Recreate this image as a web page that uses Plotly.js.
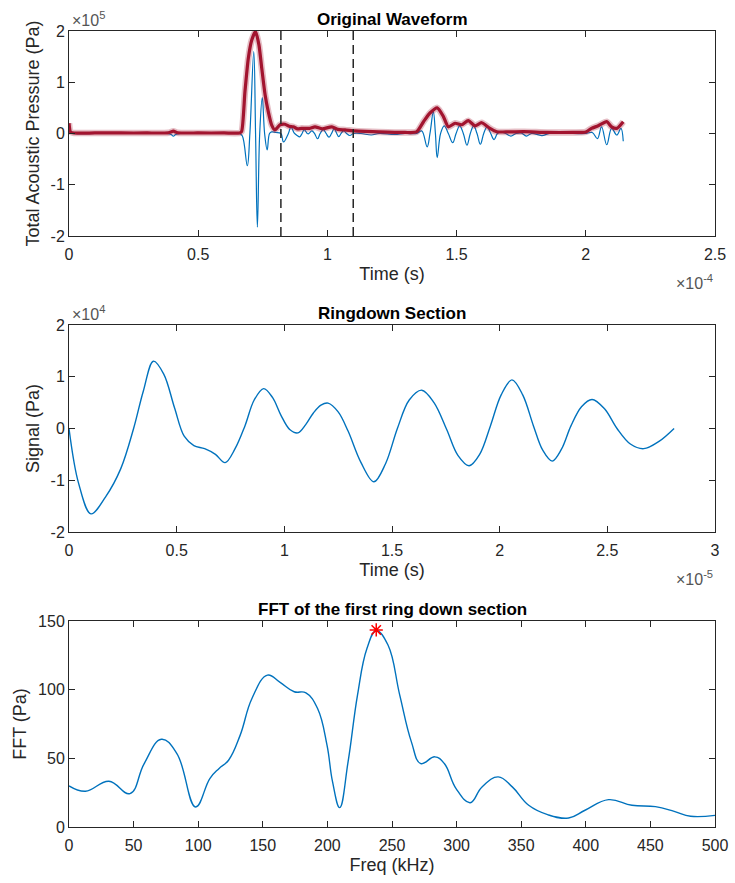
<!DOCTYPE html>
<html>
<head>
<meta charset="utf-8">
<script src="https://cdn.plot.ly/plotly-3.0.1.min.js"></script>
<style>
  html, body { margin: 0; padding: 0; background: #fff; }
  #chart { width: 735px; height: 883px; }
</style>
</head>
<body>
<div id="chart"></div>
<script>
// ---------- Panel 1: Original waveform (time in 1e-4 s, pressure in 1e5 Pa) ----------
const waveTime = [0, 0.005, 0.02, 0.1, 0.2, 0.3, 0.38, 0.395, 0.404, 0.413, 0.43, 0.5, 0.6, 0.66,
  0.671, 0.690, 0.700, 0.715, 0.722, 0.729, 0.738, 0.748, 0.757, 0.767, 0.776, 0.784, 0.80, 0.82,
  0.830, 0.849, 0.859, 0.871, 0.883, 0.8925, 0.902, 0.910, 0.922, 0.926, 0.940, 0.950, 0.962, 0.972,
  0.984, 0.995, 1.006, 1.016, 1.026, 1.036, 1.044, 1.053, 1.063, 1.074, 1.087, 1.101,
  1.13, 1.17, 1.2, 1.26, 1.3, 1.345, 1.365, 1.386, 1.397, 1.410, 1.418, 1.425, 1.438, 1.452, 1.468,
  1.485, 1.498, 1.512, 1.526, 1.54, 1.553, 1.566, 1.579, 1.592, 1.605, 1.618, 1.632, 1.645, 1.658,
  1.67, 1.69, 1.71, 1.73, 1.75, 1.77, 1.79, 1.83, 1.86, 1.95, 2.0, 2.025, 2.045, 2.061, 2.081, 2.1,
  2.12, 2.136, 2.145];
const wavePressure = [0.15, 0.02, 0, 0, 0, 0, 0, -0.02, -0.05, -0.02, 0, 0, 0, 0,
  -0.05, -0.63, 0, 1.6, 0, -1.83, 0, 0.7, 0, -0.32, 0, 0.03, 0.02, 0,
  -0.165, 0, 0.13, 0.013, -0.039, -0.066, 0, 0.077, 0, -0.0085, 0.049, 0, -0.103, 0,
  0.074, 0, -0.072, 0, 0.094, 0, -0.063, 0, 0.056, 0, -0.039, 0,
  0, -0.03, 0, -0.02, 0, 0, 0.05, -0.26, 0, 0.42, 0, -0.47, 0, 0.15, 0,
  -0.18, 0, 0.15, 0, -0.23, 0, 0.15, 0, -0.21, 0, 0.13, 0, -0.12, 0,
  0.03, 0, -0.05, 0, 0.01, -0.05, 0, -0.04, 0, 0, 0, 0.02, -0.1, 0.13, -0.22, 0.1,
  -0.03, 0.1, -0.15];

const envTime = [0, 0.006, 0.02, 0.1, 0.2, 0.3, 0.385, 0.404, 0.42, 0.5, 0.6, 0.66, 0.668, 0.681,
  0.694, 0.707, 0.722, 0.735, 0.746, 0.759, 0.771, 0.784, 0.797, 0.817, 0.836, 0.852, 0.868, 0.885,
  0.9, 0.93, 0.952, 0.98, 1.017, 1.04, 1.068, 1.107, 1.146, 1.2, 1.3, 1.345, 1.372, 1.397, 1.425,
  1.449, 1.468, 1.494, 1.52, 1.545, 1.571, 1.597, 1.629, 1.655, 1.7, 1.76, 1.85, 1.95, 2.0, 2.022,
  2.048, 2.081, 2.1, 2.12, 2.145];
const envPressure = [0.2, 0.03, 0.01, 0.01, 0.01, 0.01, 0.015, 0.045, 0.015, 0.01, 0.01, 0.01, 0.04, 0.82,
  1.47, 1.82, 1.99, 1.73, 1.27, 0.75, 0.43, 0.17, 0.07, 0.17, 0.18, 0.14, 0.13, 0.09,
  0.1, 0.1, 0.13, 0.09, 0.13, 0.08, 0.07, 0.05, 0.04, 0.03, 0.02, 0.03, 0.23, 0.4, 0.5,
  0.33, 0.13, 0.2, 0.17, 0.25, 0.15, 0.21, 0.1, 0.035, 0.03, 0.035, 0.02, 0.02, 0.03, 0.1,
  0.15, 0.23, 0.13, 0.1, 0.23];

const ringdownBounds = [0.82, 1.10];

// ---------- Panel 2: Ringdown section (time in 1e-5 s, signal in 1e4 Pa) ----------
const ringTime = [0, 0.044, 0.102, 0.17, 0.24, 0.30, 0.345, 0.392, 0.44, 0.49, 0.535, 0.58, 0.63,
  0.68, 0.725, 0.77, 0.817, 0.86, 0.904, 0.945, 0.985, 1.025, 1.063, 1.10, 1.135, 1.17, 1.203,
  1.25, 1.296, 1.355, 1.416, 1.47, 1.525, 1.58, 1.638, 1.695, 1.754, 1.806, 1.858, 1.907, 1.957,
  2.007, 2.057, 2.107, 2.157, 2.20, 2.244, 2.287, 2.331, 2.38, 2.429, 2.487, 2.545, 2.607, 2.669,
  2.74, 2.81];
const ringSignal = [0, -1.05, -1.65, -1.32, -0.78, 0, 0.72, 1.3, 1.05, 0.4, -0.15, -0.33, -0.39,
  -0.5, -0.66, -0.4, 0.05, 0.55, 0.77, 0.6, 0.25, -0.02, -0.085, 0.08, 0.3, 0.45, 0.49,
  0.32, -0.05, -0.65, -1.03, -0.68, 0.0, 0.55, 0.74, 0.5, -0.02, -0.52, -0.72, -0.5, 0.05,
  0.65, 0.94, 0.65, 0.05, -0.42, -0.63, -0.4, 0.05, 0.42, 0.56, 0.38, 0.0, -0.3, -0.39,
  -0.25, 0];

// ---------- Panel 3: FFT ----------
const fftFreq = [0, 12.7, 30.9, 47.2, 58.1, 71.5, 83.5, 98, 109, 116, 123.5, 132.5, 141.6, 153.6,
  163.4, 174.3, 183.4, 192.4, 199.7, 204, 209.5, 216, 223.3, 230.6, 237.8, 246.9, 256, 265, 272.3,
  283.2, 290.5, 299.6, 310.5, 319.5, 332.2, 343.1, 355.8, 370.4, 386.7, 399.4, 417.6, 435.7, 453.9,
  468.4, 481.1, 500];
const fftAmp = [29.9, 26.0, 33.3, 24.3, 46, 63.9, 53.5, 14.6, 35.3, 42.5, 48.6, 66.9, 93.6, 110.6,
  105.3, 98.5, 97.7, 86.3, 59.6, 32.8, 14.1, 47.4, 96, 130, 143, 132.5, 96, 62, 46.2,
  51.1, 46.2, 28, 17.7, 29, 36.5, 29.2, 15.8, 9.0, 6.6, 12.2, 19.9, 15.8, 14.8,
  11.4, 7.8, 8.5];
const peakFreq = [237.8];
const peakAmp = [143.5];

// tick labels
const xTicks1 = [0, 0.5, 1, 1.5, 2, 2.5];
const xTickText1 = ['0', '0.5', '1', '1.5', '2', '2.5'];
const yTicks1 = [-2, -1, 0, 1, 2];
const yTickText1 = ['-2', '-1', '0', '1', '2'];
const xTicks2 = [0, 0.5, 1, 1.5, 2, 2.5, 3];
const xTickText2 = ['0', '0.5', '1', '1.5', '2', '2.5', '3'];
const xTicks3 = [0, 50, 100, 150, 200, 250, 300, 350, 400, 450, 500];
const yTicks3 = [0, 50, 100, 150];

const BLUE = '#0072BD';
const RED = '#A2142F';
const AX = '#262626';
const FONT = 'Liberation Sans, Arial, Helvetica, sans-serif';

const traces = [
  { x: waveTime, y: wavePressure, xaxis: 'x', yaxis: 'y', type: 'scatter', mode: 'lines',
    line: { color: BLUE, width: 1.2, shape: 'spline', smoothing: 1.1 } },
  { x: envTime, y: envPressure, xaxis: 'x', yaxis: 'y', type: 'scatter', mode: 'lines',
    line: { color: 'rgba(162,20,47,0.28)', width: 6.5, shape: 'spline', smoothing: 0.6 } },
  { x: envTime, y: envPressure, xaxis: 'x', yaxis: 'y', type: 'scatter', mode: 'lines',
    line: { color: RED, width: 3.2, shape: 'spline', smoothing: 0.6 } },
  { x: [ringdownBounds[0], ringdownBounds[0]], y: [-2, 2], xaxis: 'x', yaxis: 'y', type: 'scatter', mode: 'lines',
    line: { color: AX, width: 1.5, dash: '9px,5px' } },
  { x: [ringdownBounds[1], ringdownBounds[1]], y: [-2, 2], xaxis: 'x', yaxis: 'y', type: 'scatter', mode: 'lines',
    line: { color: AX, width: 1.5, dash: '9px,5px' } },
  { x: ringTime, y: ringSignal, xaxis: 'x2', yaxis: 'y2', type: 'scatter', mode: 'lines',
    line: { color: BLUE, width: 1.4, shape: 'spline', smoothing: 1 } },
  { x: fftFreq, y: fftAmp, xaxis: 'x3', yaxis: 'y3', type: 'scatter', mode: 'lines',
    line: { color: BLUE, width: 1.4, shape: 'spline', smoothing: 1.2 } },
  { x: peakFreq, y: peakAmp, xaxis: 'x3', yaxis: 'y3', type: 'scatter', mode: 'markers',
    marker: { symbol: 'asterisk-open', size: 11, color: 'red', line: { color: 'red', width: 1.5 } } }
];

function axis(extra) {
  return Object.assign({
    showline: true, linecolor: AX, linewidth: 1, mirror: 'ticks',
    ticks: 'inside', ticklen: 6, tickcolor: AX, tickwidth: 1,
    tickfont: { family: FONT, size: 16, color: AX },
    zeroline: false, showgrid: false, automargin: false, fixedrange: true
  }, extra);
}
const titleFont = { family: FONT, size: 18, color: AX };
const headFont = { family: FONT, size: 17, color: '#000' };
const expFont = { family: FONT, size: 16, color: '#555' };

const layout = {
  width: 735, height: 883,
  margin: { l: 69, r: 20, t: 31, b: 56 },
  paper_bgcolor: '#fff', plot_bgcolor: '#fff',
  showlegend: false,
  xaxis: axis({ domain: [0, 1], anchor: 'y', range: [0, 2.5], tickvals: xTicks1, ticktext: xTickText1,
    ticklabelstandoff: 4, title: { text: 'Time (s)', font: titleFont, standoff: 5 } }),
  yaxis: axis({ domain: [0.7425, 1], anchor: 'x', range: [-2, 2], tickvals: yTicks1, ticktext: yTickText1,
    title: { text: 'Total Acoustic Pressure (Pa)', font: titleFont, standoff: 6 } }),
  xaxis2: axis({ domain: [0, 1], anchor: 'y2', range: [0, 3], tickvals: xTicks2, ticktext: xTickText2,
    ticklabelstandoff: 4, title: { text: 'Time (s)', font: titleFont, standoff: 5 } }),
  yaxis2: axis({ domain: [0.3706, 0.6307], anchor: 'x2', range: [-2, 2], tickvals: yTicks1, ticktext: yTickText1,
    title: { text: 'Signal (Pa)', font: titleFont, standoff: 6 } }),
  xaxis3: axis({ domain: [0, 1], anchor: 'y3', range: [0, 500], tickvals: xTicks3,
    ticklabelstandoff: 4, title: { text: 'Freq (kHz)', font: titleFont, standoff: 5 } }),
  yaxis3: axis({ domain: [0, 0.2588], anchor: 'x3', range: [0, 150], tickvals: yTicks3,
    title: { text: 'FFT (Pa)', font: titleFont, standoff: 6 } }),
  annotations: [
    { text: '<b>Original Waveform</b>', xref: 'x domain', yref: 'y domain', x: 0.5, y: 1,
      xanchor: 'center', yanchor: 'bottom', yshift: 0, showarrow: false, font: headFont },
    { text: '<b>Ringdown Section</b>', xref: 'x2 domain', yref: 'y2 domain', x: 0.5, y: 1,
      xanchor: 'center', yanchor: 'bottom', yshift: 0, showarrow: false, font: headFont },
    { text: '<b>FFT of the first ring down section</b>', xref: 'x3 domain', yref: 'y3 domain', x: 0.5, y: 1,
      xanchor: 'center', yanchor: 'bottom', yshift: 0, showarrow: false, font: headFont },
    { text: '×10<sup>5</sup>', xref: 'x domain', yref: 'y domain', x: 0, y: 1,
      xanchor: 'left', yanchor: 'bottom', xshift: 1, yshift: 0, showarrow: false, font: expFont },
    { text: '×10<sup>-4</sup>', xref: 'x domain', yref: 'y domain', x: 1, y: 0,
      xanchor: 'right', yanchor: 'top', yshift: -34, showarrow: false, font: expFont },
    { text: '×10<sup>4</sup>', xref: 'x2 domain', yref: 'y2 domain', x: 0, y: 1,
      xanchor: 'left', yanchor: 'bottom', xshift: 1, yshift: 0, showarrow: false, font: expFont },
    { text: '×10<sup>-5</sup>', xref: 'x2 domain', yref: 'y2 domain', x: 1, y: 0,
      xanchor: 'right', yanchor: 'top', yshift: -34, showarrow: false, font: expFont }
  ]
};

Plotly.newPlot('chart', traces, layout, { displayModeBar: false, staticPlot: true });
</script>
</body>
</html>
